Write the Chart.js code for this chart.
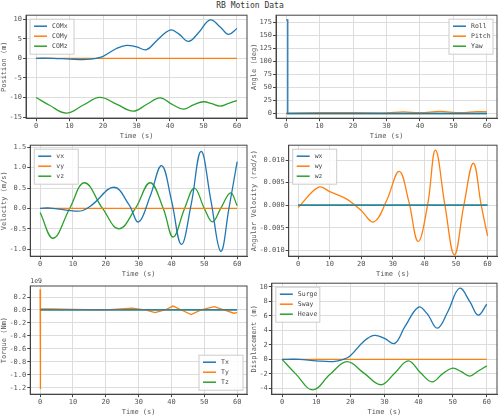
<!DOCTYPE html>
<html><head><meta charset="utf-8">
<script src="https://cdn.jsdelivr.net/npm/chart.js@4"></script>
<style>
body{margin:0;background:#fff;width:500px;height:416px;position:relative;overflow:hidden;font-family:"DejaVu Sans Mono",monospace}
#title{position:absolute;top:0;left:0;width:500px;text-align:center;font-size:8px;color:#333;line-height:11px}
.p{position:absolute}
</style></head><body>
<div id="title">RB Motion Data</div>
<div class="p" style="left:0;top:10px;width:250px;height:130px"><canvas id="c1"></canvas></div>
<div class="p" style="left:250px;top:10px;width:250px;height:130px"><canvas id="c2"></canvas></div>
<div class="p" style="left:0;top:140px;width:250px;height:138px"><canvas id="c3"></canvas></div>
<div class="p" style="left:250px;top:140px;width:250px;height:138px"><canvas id="c4"></canvas></div>
<div class="p" style="left:0;top:278px;width:250px;height:138px"><canvas id="c5"></canvas></div>
<div class="p" style="left:250px;top:278px;width:250px;height:138px"><canvas id="c6"></canvas></div>
<script>
// Position / displacement
const comX = [[0,0],[5,0],[10,-0.2],[15,-0.3],[18,0],[20,0.5],[24,2.5],[27,3.3],[30,2.9],[33,2.2],[36,4.5],[40,7.2],[42.5,6.3],[45.5,4.3],[48.5,6.5],[52,9.8],[55,8],[57.5,6.1],[60,7.6]];
const comY = [[0,0],[60,0]];
const comZ = [[0,-10],[4,-12],[9,-14],[14,-12],[19,-10],[24,-11.7],[29,-13.5],[33,-11.8],[37,-10.1],[40.5,-11.7],[44,-13],[47,-11.9],[50,-11.1],[52.5,-11.6],[55,-12.2],[57.5,-11.5],[60,-10.8]];
const heave = [[0,0],[4,-2],[9,-4.2],[14,-2.1],[19,-0.3],[24,-1.9],[29,-3.5],[33,-1.9],[37,-0.2],[40.5,-1.8],[44,-3.1],[47,-2],[50,-1.2],[52.5,-1.7],[55,-2.3],[57.5,-1.6],[60,-0.9]];
// Angles
const roll = [[0,180],[0.5,180],[0.5,0],[60,0]];
const pitch = [[0,0],[10,1.5],[20,1.5],[30,1],[35,3],[40,1.5],[46,4],[52,1.5],[57,3.5],[60,3.5]];
const yaw = [[0,0],[60,0]];
// Velocity
const vx = [[0,0],[3,0.01],[10,-0.06],[13,-0.05],[16,0.1],[22.5,0.52],[27,0.1],[30,-0.33],[33.5,0.3],[37,1.05],[40,0.2],[43,-0.88],[46,0.1],[49,1.4],[52,0.2],[55,-1.05],[57.5,0],[60,1.15]];
const vy = [[0,0],[60,0]];
const vz = [[0,-0.1],[4,-0.73],[9,0],[13.5,0.63],[19,0],[24,-0.5],[29,0],[33.5,0.63],[37.5,0],[40.5,-0.7],[44,0],[47,0.5],[50,0],[52.5,-0.33],[55,0],[58,0.38],[60,0.07]];
// Angular velocity
const wx = [[0,0],[60,0]];
const wy = [[0,-0.0005],[6.5,0.004],[10,0.003],[15,0.0015],[18,0],[20,-0.0012],[24,-0.0037],[28,0.001],[32,0.0075],[35,0.001],[38,-0.008],[41,0],[43.5,0.0122],[46.5,0],[49.5,-0.011],[52.5,0],[55.5,0.0093],[58,0],[60,-0.0068]];
const wz = [[0,0],[60,0]];
// Torque (x1e9)
const tx = [[0,0],[60,0]];
const ty = [[0,0.32],[0,-1.22],[0.2,0.02],[10,0.01],[20,0],[28,0.03],[32,0],[35,-0.04],[38,0],[40.5,0.06],[43,0],[46,-0.07],[49,0],[53,0.05],[56,0],[59,-0.05],[60,-0.04]];
const tz = [[0,0],[60,0]];

const C = ['#1f77b4','#ff7f0e','#2ca02c'];
const xTicks = [0,10,20,30,40,50,60];
const font = {family:'"DejaVu Sans Mono", monospace', size:7};

const boxLegend = {
  id:'boxLegend',
  afterDraw(chart, args, o){
    const ctx = chart.ctx, a = chart.chartArea;
    ctx.save();
    ctx.strokeStyle = '#444'; ctx.lineWidth = 1;
    ctx.strokeRect(a.left, a.top, a.right-a.left, a.bottom-a.top);
    ctx.font = '6.5px "DejaVu Sans Mono", monospace';
    const ds = chart.data.datasets;
    const w = 44, lh = 10, h = ds.length*lh + 5;
    const x = o.pos.includes('right') ? a.right - w - 4 : a.left + 4;
    const y = o.pos.includes('bottom') ? a.bottom - h - 4 : a.top + 4;
    ctx.fillStyle = 'rgba(255,255,255,0.85)'; ctx.fillRect(x,y,w,h);
    ctx.strokeStyle = '#ccc'; ctx.strokeRect(x,y,w,h);
    ds.forEach((d,i) => {
      const yy = y + 7 + i*lh;
      ctx.strokeStyle = d.borderColor; ctx.lineWidth = 1.5;
      ctx.beginPath(); ctx.moveTo(x+4,yy); ctx.lineTo(x+17,yy); ctx.stroke();
      ctx.fillStyle = '#444'; ctx.textBaseline = 'middle';
      ctx.fillText(d.label, x+22, yy);
    });
    if (o.exp) { ctx.fillStyle='#444'; ctx.textBaseline='bottom'; ctx.fillText(o.exp, a.left, a.top-1); }
    ctx.restore();
  }
};

function make(id, labels, series, yLabel, yMin, yMax, yStep, dec, pos, exp) {
  new Chart(document.getElementById(id), {
    type:'line',
    data:{datasets: series.map((s,i) => ({label:labels[i], data:s.map(p=>({x:p[0],y:p[1]})), borderColor:C[i], borderWidth:1.3, pointRadius:0,
      tension: s.some((p,j)=>j>0 && p[0]===s[j-1][0]) ? 0 : 0.4}))},
    options:{
      responsive:true, maintainAspectRatio:false, animation:false,
      layout:{padding:{top: exp ? 8 : 3, right:3}},
      plugins:{legend:{display:false}, tooltip:{enabled:false}, boxLegend:{pos, exp}},
      scales:{
        x:{type:'linear', min:-3, max:63,
          afterBuildTicks: ax => { ax.ticks = xTicks.map(v=>({value:v})); },
          title:{display:true, text:'Time (s)', font, color:'#555', padding:0},
          grid:{color:'#ddd', tickColor:'#444', tickLength:3}, border:{color:'#444'},
          ticks:{font, color:'#555', padding:1, maxRotation:0}},
        y:{min:yMin, max:yMax,
          afterBuildTicks: ax => { const t=[]; for(let v=Math.ceil(yMin/yStep)*yStep; v<=yMax+1e-12; v+=yStep) t.push({value:+v.toFixed(6)}); ax.ticks=t; },
          title:{display:true, text:yLabel, font, color:'#555', padding:0},
          grid:{color:'#ddd', tickColor:'#444', tickLength:3}, border:{color:'#444'},
          ticks:{font, color:'#555', padding:1, callback: v => v.toFixed(dec)}}
      }
    },
    plugins:[boxLegend]
  });
}

make('c1',['COMx','COMy','COMz'],[comX,comY,comZ],'Position (m)',-15.3,11,5,0,'top-left');
make('c2',['Roll','Pitch','Yaw'],[roll,pitch,yaw],'Angle (deg)',-9,189,25,0,'top-right');
make('c3',['vx','vy','vz'],[vx,vy,vz],'Velocity (m/s)',-1.17,1.55,0.5,1,'top-left');
make('c4',['wx','wy','wz'],[wx,wy,wz],'Angular Velocity (rad/s)',-0.0113,0.0133,0.005,3,'top-left');
make('c5',['Tx','Ty','Tz'],[tx,ty,tz],'Torque (Nm)',-1.3,0.37,0.2,1,'bottom-right','1e9');
make('c6',['Surge','Sway','Heave'],[comX,comY,heave],'Displacement (m)',-4.8,10.5,2,0,'top-left');
</script></body></html>
